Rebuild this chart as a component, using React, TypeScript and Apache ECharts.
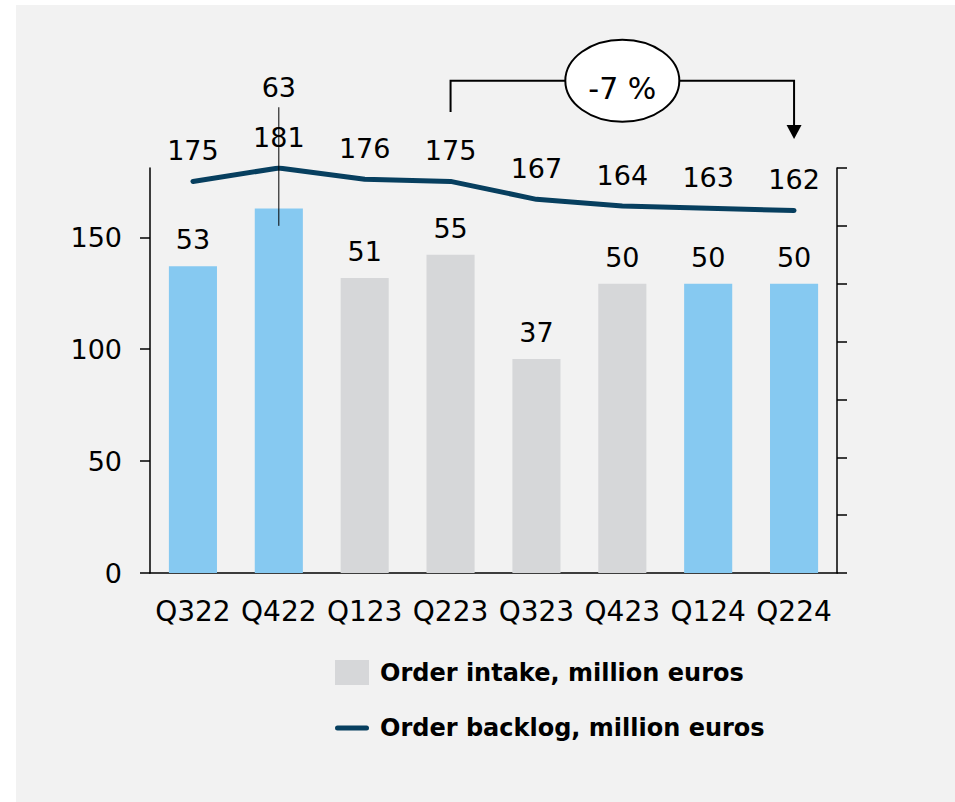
import React, { useEffect, useRef } from "react";
import * as echarts from "echarts";

const categories = ["Q322", "Q422", "Q123", "Q223", "Q323", "Q423", "Q124", "Q224"];
const orderIntake = [53, 63, 51, 55, 37, 50, 50, 50];
const orderBacklog = [175, 181, 176, 175, 167, 164, 163, 162];
const blueQuarters = ["Q322", "Q422", "Q124", "Q224"];
const leftTicks = [0, 50, 100, 150];
const changeLabel = "-7 %";
const intakeName = "Order intake, million euros";
const backlogName = "Order backlog, million euros";

const FONT = "DejaVu Sans";
const BLUE = "#86c9f1";
const GREY = "#d6d7d9";
const NAVY = "#073f5f";

export default function App() {
  const ref = useRef<HTMLDivElement>(null);

  useEffect(() => {
    if (!ref.current) return;
    const chart = echarts.init(ref.current, null, { renderer: "svg" });

    const barData = orderIntake.map((v, i) => {
      const item: any = { value: v };
      if (blueQuarters.includes(categories[i])) item.itemStyle = { color: BLUE };
      if (categories[i] === "Q422") item.label = { offset: [0, -95] };
      return item;
    });

    chart.setOption({
      animation: false,
      backgroundColor: "#f2f2f2",
      textStyle: { fontFamily: FONT },
      grid: { left: 134, right: 118, top: 163, bottom: 229, containLabel: false },
      legend: {
        orient: "vertical",
        left: 319,
        top: 655,
        padding: 0,
        itemWidth: 34,
        itemHeight: 25,
        itemGap: 31,
        textStyle: { fontFamily: FONT, fontSize: 24, fontWeight: "bold", color: "#000", padding: [0, 0, 0, 6] },
        data: [
          { name: intakeName, icon: "rect", itemStyle: { color: GREY } },
          { name: backlogName, icon: "path://M2.5,0h29a2.5,2.5,0,0,1,0,5h-29a2.5,2.5,0,0,1,0,-5z", itemStyle: { color: NAVY } },
        ],
      },
      xAxis: {
        type: "category",
        data: categories,
        axisLine: { lineStyle: { color: "#000", width: 1.5 } },
        axisTick: { show: false },
        axisLabel: { color: "#000", fontSize: 28, fontFamily: FONT, margin: 24, interval: 0 },
      },
      yAxis: [
        {
          type: "value",
          min: 0,
          max: 181,
          interval: 50,
          position: "left",
          axisLine: { show: true, lineStyle: { color: "#000", width: 1.5 } },
          axisTick: { show: true, length: 10, customValues: leftTicks, lineStyle: { color: "#000", width: 1.5 } },
          axisLabel: { color: "#000", fontSize: 27, fontFamily: FONT, margin: 28, customValues: leftTicks },
          splitLine: { show: false },
        },
        {
          type: "value",
          min: 0,
          max: 70,
          interval: 10,
          position: "right",
          axisLine: { show: true, lineStyle: { color: "#000", width: 1.5 } },
          axisTick: { show: true, length: 10, lineStyle: { color: "#000", width: 1.5 } },
          axisLabel: { show: false },
          splitLine: { show: false },
        },
      ],
      series: [
        {
          name: intakeName,
          type: "bar",
          yAxisIndex: 1,
          barWidth: "56%",
          itemStyle: { color: GREY },
          data: barData,
          label: { show: true, position: "top", distance: 13, color: "#000", fontSize: 27, fontFamily: FONT },
          z: 2,
        },
        {
          name: backlogName,
          type: "line",
          yAxisIndex: 0,
          data: orderBacklog,
          color: NAVY,
          symbol: "circle",
          symbolSize: 1,
          showSymbol: true,
          itemStyle: { color: NAVY },
          lineStyle: { color: NAVY, width: 5, cap: "round", join: "round" },
          label: { show: true, position: "top", distance: 17, color: "#000", fontSize: 27, fontFamily: FONT },
          z: 3,
        },
      ],
    });

    // Annotations positioned from data via the chart's own scales
    const q422Top = chart.convertToPixel({ seriesIndex: 0 }, ["Q422", 80.5]) as number[];
    const q422Bot = chart.convertToPixel({ seriesIndex: 0 }, ["Q422", 60]) as number[];
    const leftStart = chart.convertToPixel({ seriesIndex: 1 }, ["Q223", 206]) as number[];
    const bracketTop = chart.convertToPixel({ seriesIndex: 1 }, ["Q223", 220]) as number[];
    const rightTop = chart.convertToPixel({ seriesIndex: 1 }, ["Q224", 220]) as number[];
    const arrowTip = chart.convertToPixel({ seriesIndex: 1 }, ["Q224", 194]) as number[];
    const cx = (bracketTop[0] + rightTop[0]) / 2;
    const cy = bracketTop[1];
    const arrowH = 14;
    const arrowHalf = 7.5;

    chart.setOption({
      graphic: [
        {
          type: "line",
          shape: { x1: q422Top[0], y1: q422Top[1], x2: q422Bot[0], y2: q422Bot[1] },
          style: { stroke: "#000", lineWidth: 1 },
          z: 10,
        },
        {
          type: "polyline",
          shape: {
            points: [
              [leftStart[0], leftStart[1]],
              [bracketTop[0], bracketTop[1]],
              [rightTop[0], rightTop[1]],
              [arrowTip[0], arrowTip[1] - arrowH],
            ],
          },
          style: { stroke: "#000", lineWidth: 2, fill: "none" },
          z: 10,
        },
        {
          type: "polygon",
          shape: {
            points: [
              [arrowTip[0] - arrowHalf, arrowTip[1] - arrowH],
              [arrowTip[0] + arrowHalf, arrowTip[1] - arrowH],
              [arrowTip[0], arrowTip[1]],
            ],
          },
          style: { fill: "#000" },
          z: 10,
        },
        {
          type: "ellipse",
          shape: { cx, cy, rx: 57, ry: 41 },
          style: { fill: "#fff", stroke: "#000", lineWidth: 2 },
          z: 11,
        },
        {
          type: "text",
          x: cx,
          y: cy + 8,
          style: {
            text: changeLabel,
            fontSize: 30,
            fontFamily: FONT,
            fill: "#000",
            align: "center",
            verticalAlign: "middle",
          },
          z: 12,
        },
      ],
    });

    return () => chart.dispose();
  }, []);

  return (
    <div
      ref={ref}
      style={{ position: "absolute", left: 16, top: 5, width: 939, height: 797 }}
    />
  );
}
